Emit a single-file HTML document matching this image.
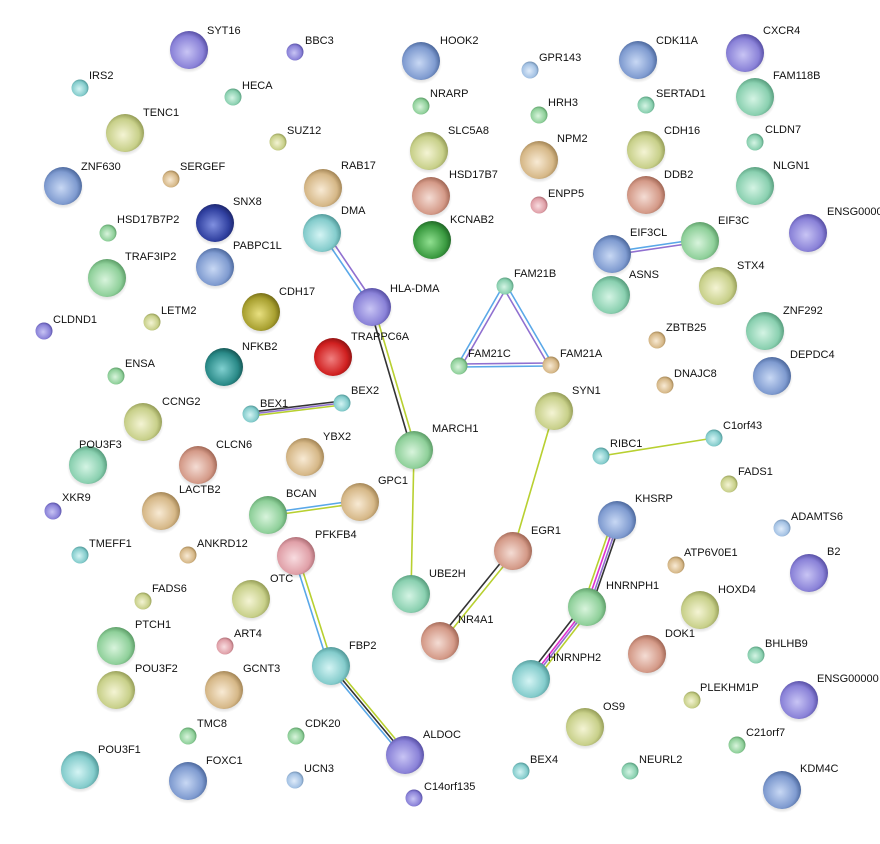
<!DOCTYPE html>
<html><head><meta charset="utf-8"><style>
html,body{margin:0;padding:0;background:#fff;width:880px;height:844px;overflow:hidden}
svg text{font-family:"Liberation Sans",sans-serif;font-size:11px;fill:#111}
</style></head><body>
<svg width="880" height="844" xmlns="http://www.w3.org/2000/svg">
<defs>
<radialGradient id="sh" cx="50%" cy="50%" r="50%"><stop offset="60%" stop-color="#000" stop-opacity="0.25"/><stop offset="100%" stop-color="#000" stop-opacity="0"/></radialGradient>
<radialGradient id="hl" cx="50%" cy="30%" r="50%"><stop offset="0%" stop-color="#fff" stop-opacity="0.95"/><stop offset="100%" stop-color="#fff" stop-opacity="0"/></radialGradient>
<radialGradient id="pu" cx="45%" cy="55%" r="60%"><stop offset="0%" stop-color="#c8c4f4"/><stop offset="70%" stop-color="#8a82d8"/><stop offset="100%" stop-color="#4a4298"/></radialGradient>
<radialGradient id="bl" cx="45%" cy="55%" r="60%"><stop offset="0%" stop-color="#c8d8f4"/><stop offset="70%" stop-color="#7f9bd0"/><stop offset="100%" stop-color="#3f5b90"/></radialGradient>
<radialGradient id="lb" cx="45%" cy="55%" r="60%"><stop offset="0%" stop-color="#e0ecfa"/><stop offset="70%" stop-color="#a4c2e4"/><stop offset="100%" stop-color="#6482a4"/></radialGradient>
<radialGradient id="te" cx="45%" cy="55%" r="60%"><stop offset="0%" stop-color="#d4f4f4"/><stop offset="70%" stop-color="#84cccc"/><stop offset="100%" stop-color="#448c8c"/></radialGradient>
<radialGradient id="tg" cx="45%" cy="55%" r="60%"><stop offset="0%" stop-color="#d4f4e4"/><stop offset="70%" stop-color="#8ad0b0"/><stop offset="100%" stop-color="#4a9070"/></radialGradient>
<radialGradient id="gr" cx="45%" cy="55%" r="60%"><stop offset="0%" stop-color="#d8f4dc"/><stop offset="70%" stop-color="#8fd09a"/><stop offset="100%" stop-color="#4f905a"/></radialGradient>
<radialGradient id="ol" cx="45%" cy="55%" r="60%"><stop offset="0%" stop-color="#f4f4d4"/><stop offset="70%" stop-color="#c8d08a"/><stop offset="100%" stop-color="#88904a"/></radialGradient>
<radialGradient id="ta" cx="45%" cy="55%" r="60%"><stop offset="0%" stop-color="#f8ead4"/><stop offset="70%" stop-color="#d6b888"/><stop offset="100%" stop-color="#967848"/></radialGradient>
<radialGradient id="sa" cx="45%" cy="55%" r="60%"><stop offset="0%" stop-color="#f4dcd4"/><stop offset="70%" stop-color="#d49a88"/><stop offset="100%" stop-color="#945a48"/></radialGradient>
<radialGradient id="pk" cx="45%" cy="55%" r="60%"><stop offset="0%" stop-color="#f8dce0"/><stop offset="70%" stop-color="#e0a0a8"/><stop offset="100%" stop-color="#a06068"/></radialGradient>
<radialGradient id="rd" cx="45%" cy="55%" r="60%"><stop offset="0%" stop-color="#f08080"/><stop offset="70%" stop-color="#d02020"/><stop offset="100%" stop-color="#801010"/></radialGradient>
<radialGradient id="nv" cx="45%" cy="55%" r="60%"><stop offset="0%" stop-color="#8090e0"/><stop offset="70%" stop-color="#3040a0"/><stop offset="100%" stop-color="#182060"/></radialGradient>
<radialGradient id="dg" cx="45%" cy="55%" r="60%"><stop offset="0%" stop-color="#90e090"/><stop offset="70%" stop-color="#3a9a40"/><stop offset="100%" stop-color="#1a5a20"/></radialGradient>
<radialGradient id="dt" cx="45%" cy="55%" r="60%"><stop offset="0%" stop-color="#80d0d0"/><stop offset="70%" stop-color="#2a8a88"/><stop offset="100%" stop-color="#104a48"/></radialGradient>
<radialGradient id="do" cx="45%" cy="55%" r="60%"><stop offset="0%" stop-color="#e8e080"/><stop offset="70%" stop-color="#a8a030"/><stop offset="100%" stop-color="#686010"/></radialGradient>
</defs>
<g stroke-width="1.6" fill="none">
<line x1="320" y1="231" x2="370" y2="305" stroke="#5aa8e8"/><line x1="324" y1="229" x2="374" y2="303" stroke="#9070d0"/>
<line x1="370" y1="308" x2="412" y2="451" stroke="#333"/><line x1="374" y1="307" x2="416" y2="450" stroke="#b8d030"/>
<line x1="414" y1="450" x2="411" y2="594" stroke="#b8d030"/>
<line x1="251" y1="412" x2="342" y2="401" stroke="#333"/><line x1="251" y1="414" x2="342" y2="403" stroke="#9070d0"/><line x1="251" y1="416" x2="342" y2="405" stroke="#b8d030"/>
<line x1="268" y1="513" x2="360" y2="500" stroke="#5aa8e8"/><line x1="268" y1="516" x2="360" y2="503" stroke="#b8d030"/>
<line x1="503" y1="286" x2="457" y2="366" stroke="#5aa8e8"/><line x1="507" y1="287" x2="461" y2="367" stroke="#9070d0"/>
<line x1="503" y1="287" x2="549" y2="366" stroke="#9070d0"/><line x1="507" y1="286" x2="553" y2="365" stroke="#5aa8e8"/>
<line x1="459" y1="364" x2="551" y2="363" stroke="#9070d0"/><line x1="459" y1="367" x2="551" y2="366" stroke="#5aa8e8"/>
<line x1="612" y1="252" x2="700" y2="239" stroke="#5aa8e8"/><line x1="612" y1="255" x2="700" y2="242" stroke="#9070d0"/>
<line x1="554" y1="411" x2="513" y2="551" stroke="#b8d030"/>
<line x1="511" y1="550" x2="438" y2="640" stroke="#333"/><line x1="515" y1="552" x2="442" y2="642" stroke="#b8d030"/>
<line x1="601" y1="456" x2="714" y2="438" stroke="#b8d030"/>
<line x1="613" y1="519" x2="583" y2="606" stroke="#b8d030"/><line x1="616" y1="520" x2="586" y2="607" stroke="#e030d0"/><line x1="619" y1="520" x2="589" y2="607" stroke="#9070d0"/><line x1="621" y1="521" x2="591" y2="608" stroke="#333"/>
<line x1="584" y1="604" x2="528" y2="676" stroke="#333"/><line x1="587" y1="606" x2="531" y2="678" stroke="#e030d0"/><line x1="589" y1="607" x2="533" y2="679" stroke="#9070d0"/><line x1="591" y1="609" x2="535" y2="681" stroke="#b8d030"/>
<line x1="294" y1="557" x2="329" y2="667" stroke="#5aa8e8"/><line x1="298" y1="556" x2="333" y2="666" stroke="#b8d030"/>
<line x1="329" y1="668" x2="403" y2="757" stroke="#5aa8e8"/><line x1="331" y1="666" x2="405" y2="755" stroke="#333"/><line x1="333" y1="664" x2="407" y2="753" stroke="#b8d030"/>
</g>
<g id="nodes">
<!-- big nodes -->
<g>
<circle cx="189" cy="52" r="21" fill="url(#sh)"/><circle cx="189" cy="50" r="19" fill="url(#pu)"/>
<circle cx="421" cy="63" r="21" fill="url(#sh)"/><circle cx="421" cy="61" r="19" fill="url(#bl)"/>
<circle cx="125" cy="135" r="21" fill="url(#sh)"/><circle cx="125" cy="133" r="19" fill="url(#ol)"/>
<circle cx="63" cy="188" r="21" fill="url(#sh)"/><circle cx="63" cy="186" r="19" fill="url(#bl)"/>
<circle cx="429" cy="153" r="21" fill="url(#sh)"/><circle cx="429" cy="151" r="19" fill="url(#ol)"/>
<circle cx="431" cy="198" r="21" fill="url(#sh)"/><circle cx="431" cy="196" r="19" fill="url(#sa)"/>
<circle cx="432" cy="242" r="21" fill="url(#sh)"/><circle cx="432" cy="240" r="19" fill="url(#dg)"/>
<circle cx="323" cy="190" r="21" fill="url(#sh)"/><circle cx="323" cy="188" r="19" fill="url(#ta)"/>
<circle cx="322" cy="235" r="21" fill="url(#sh)"/><circle cx="322" cy="233" r="19" fill="url(#te)"/>
<circle cx="539" cy="162" r="21" fill="url(#sh)"/><circle cx="539" cy="160" r="19" fill="url(#ta)"/>
<circle cx="638" cy="62" r="21" fill="url(#sh)"/><circle cx="638" cy="60" r="19" fill="url(#bl)"/>
<circle cx="646" cy="152" r="21" fill="url(#sh)"/><circle cx="646" cy="150" r="19" fill="url(#ol)"/>
<circle cx="646" cy="197" r="21" fill="url(#sh)"/><circle cx="646" cy="195" r="19" fill="url(#sa)"/>
<circle cx="745" cy="55" r="21" fill="url(#sh)"/><circle cx="745" cy="53" r="19" fill="url(#pu)"/>
<circle cx="755" cy="99" r="21" fill="url(#sh)"/><circle cx="755" cy="97" r="19" fill="url(#tg)"/>
<circle cx="755" cy="188" r="21" fill="url(#sh)"/><circle cx="755" cy="186" r="19" fill="url(#tg)"/>
<circle cx="808" cy="235" r="21" fill="url(#sh)"/><circle cx="808" cy="233" r="19" fill="url(#pu)"/>
<circle cx="215" cy="225" r="21" fill="url(#sh)"/><circle cx="215" cy="223" r="19" fill="url(#nv)"/>
<circle cx="215" cy="269" r="21" fill="url(#sh)"/><circle cx="215" cy="267" r="19" fill="url(#bl)"/>
<circle cx="107" cy="280" r="21" fill="url(#sh)"/><circle cx="107" cy="278" r="19" fill="url(#gr)"/>
<circle cx="261" cy="314" r="21" fill="url(#sh)"/><circle cx="261" cy="312" r="19" fill="url(#do)"/>
<circle cx="372" cy="309" r="21" fill="url(#sh)"/><circle cx="372" cy="307" r="19" fill="url(#pu)"/>
<circle cx="333" cy="359" r="21" fill="url(#sh)"/><circle cx="333" cy="357" r="19" fill="url(#rd)"/>
<circle cx="224" cy="369" r="21" fill="url(#sh)"/><circle cx="224" cy="367" r="19" fill="url(#dt)"/>
<circle cx="612" cy="256" r="21" fill="url(#sh)"/><circle cx="612" cy="254" r="19" fill="url(#bl)"/>
<circle cx="700" cy="243" r="21" fill="url(#sh)"/><circle cx="700" cy="241" r="19" fill="url(#gr)"/>
<circle cx="611" cy="297" r="21" fill="url(#sh)"/><circle cx="611" cy="295" r="19" fill="url(#tg)"/>
<circle cx="718" cy="288" r="21" fill="url(#sh)"/><circle cx="718" cy="286" r="19" fill="url(#ol)"/>
<circle cx="765" cy="333" r="21" fill="url(#sh)"/><circle cx="765" cy="331" r="19" fill="url(#tg)"/>
<circle cx="772" cy="378" r="21" fill="url(#sh)"/><circle cx="772" cy="376" r="19" fill="url(#bl)"/>
<circle cx="143" cy="424" r="21" fill="url(#sh)"/><circle cx="143" cy="422" r="19" fill="url(#ol)"/>
<circle cx="414" cy="452" r="21" fill="url(#sh)"/><circle cx="414" cy="450" r="19" fill="url(#gr)"/>
<circle cx="554" cy="413" r="21" fill="url(#sh)"/><circle cx="554" cy="411" r="19" fill="url(#ol)"/>
<circle cx="88" cy="467" r="21" fill="url(#sh)"/><circle cx="88" cy="465" r="19" fill="url(#tg)"/>
<circle cx="198" cy="467" r="21" fill="url(#sh)"/><circle cx="198" cy="465" r="19" fill="url(#sa)"/>
<circle cx="305" cy="459" r="21" fill="url(#sh)"/><circle cx="305" cy="457" r="19" fill="url(#ta)"/>
<circle cx="161" cy="513" r="21" fill="url(#sh)"/><circle cx="161" cy="511" r="19" fill="url(#ta)"/>
<circle cx="360" cy="504" r="21" fill="url(#sh)"/><circle cx="360" cy="502" r="19" fill="url(#ta)"/>
<circle cx="268" cy="517" r="21" fill="url(#sh)"/><circle cx="268" cy="515" r="19" fill="url(#gr)"/>
<circle cx="513" cy="553" r="21" fill="url(#sh)"/><circle cx="513" cy="551" r="19" fill="url(#sa)"/>
<circle cx="617" cy="522" r="21" fill="url(#sh)"/><circle cx="617" cy="520" r="19" fill="url(#bl)"/>
<circle cx="296" cy="558" r="21" fill="url(#sh)"/><circle cx="296" cy="556" r="19" fill="url(#pk)"/>
<circle cx="809" cy="575" r="21" fill="url(#sh)"/><circle cx="809" cy="573" r="19" fill="url(#pu)"/>
<circle cx="251" cy="601" r="21" fill="url(#sh)"/><circle cx="251" cy="599" r="19" fill="url(#ol)"/>
<circle cx="411" cy="596" r="21" fill="url(#sh)"/><circle cx="411" cy="594" r="19" fill="url(#tg)"/>
<circle cx="587" cy="609" r="21" fill="url(#sh)"/><circle cx="587" cy="607" r="19" fill="url(#gr)"/>
<circle cx="700" cy="612" r="21" fill="url(#sh)"/><circle cx="700" cy="610" r="19" fill="url(#ol)"/>
<circle cx="116" cy="648" r="21" fill="url(#sh)"/><circle cx="116" cy="646" r="19" fill="url(#gr)"/>
<circle cx="440" cy="643" r="21" fill="url(#sh)"/><circle cx="440" cy="641" r="19" fill="url(#sa)"/>
<circle cx="647" cy="656" r="21" fill="url(#sh)"/><circle cx="647" cy="654" r="19" fill="url(#sa)"/>
<circle cx="116" cy="692" r="21" fill="url(#sh)"/><circle cx="116" cy="690" r="19" fill="url(#ol)"/>
<circle cx="224" cy="692" r="21" fill="url(#sh)"/><circle cx="224" cy="690" r="19" fill="url(#ta)"/>
<circle cx="331" cy="668" r="21" fill="url(#sh)"/><circle cx="331" cy="666" r="19" fill="url(#te)"/>
<circle cx="531" cy="681" r="21" fill="url(#sh)"/><circle cx="531" cy="679" r="19" fill="url(#te)"/>
<circle cx="799" cy="702" r="21" fill="url(#sh)"/><circle cx="799" cy="700" r="19" fill="url(#pu)"/>
<circle cx="585" cy="729" r="21" fill="url(#sh)"/><circle cx="585" cy="727" r="19" fill="url(#ol)"/>
<circle cx="80" cy="772" r="21" fill="url(#sh)"/><circle cx="80" cy="770" r="19" fill="url(#te)"/>
<circle cx="188" cy="783" r="21" fill="url(#sh)"/><circle cx="188" cy="781" r="19" fill="url(#bl)"/>
<circle cx="405" cy="757" r="21" fill="url(#sh)"/><circle cx="405" cy="755" r="19" fill="url(#pu)"/>
<circle cx="782" cy="792" r="21" fill="url(#sh)"/><circle cx="782" cy="790" r="19" fill="url(#bl)"/>
</g>
<!-- small nodes -->
<g>
<circle cx="295" cy="52" r="8.5" fill="url(#pu)"/>
<circle cx="80" cy="88" r="8.5" fill="url(#te)"/>
<circle cx="233" cy="97" r="8.5" fill="url(#tg)"/>
<circle cx="278" cy="142" r="8.5" fill="url(#ol)"/>
<circle cx="171" cy="179" r="8.5" fill="url(#ta)"/>
<circle cx="421" cy="106" r="8.5" fill="url(#gr)"/>
<circle cx="530" cy="70" r="8.5" fill="url(#lb)"/>
<circle cx="539" cy="115" r="8.5" fill="url(#gr)"/>
<circle cx="539" cy="205" r="8.5" fill="url(#pk)"/>
<circle cx="646" cy="105" r="8.5" fill="url(#tg)"/>
<circle cx="755" cy="142" r="8.5" fill="url(#tg)"/>
<circle cx="108" cy="233" r="8.5" fill="url(#gr)"/>
<circle cx="152" cy="322" r="8.5" fill="url(#ol)"/>
<circle cx="44" cy="331" r="8.5" fill="url(#pu)"/>
<circle cx="116" cy="376" r="8.5" fill="url(#gr)"/>
<circle cx="505" cy="286" r="8.5" fill="url(#tg)"/>
<circle cx="459" cy="366" r="8.5" fill="url(#gr)"/>
<circle cx="551" cy="365" r="8.5" fill="url(#ta)"/>
<circle cx="657" cy="340" r="8.5" fill="url(#ta)"/>
<circle cx="665" cy="385" r="8.5" fill="url(#ta)"/>
<circle cx="251" cy="414" r="8.5" fill="url(#te)"/>
<circle cx="342" cy="403" r="8.5" fill="url(#te)"/>
<circle cx="601" cy="456" r="8.5" fill="url(#te)"/>
<circle cx="714" cy="438" r="8.5" fill="url(#te)"/>
<circle cx="729" cy="484" r="8.5" fill="url(#ol)"/>
<circle cx="53" cy="511" r="8.5" fill="url(#pu)"/>
<circle cx="782" cy="528" r="8.5" fill="url(#lb)"/>
<circle cx="80" cy="555" r="8.5" fill="url(#te)"/>
<circle cx="188" cy="555" r="8.5" fill="url(#ta)"/>
<circle cx="676" cy="565" r="8.5" fill="url(#ta)"/>
<circle cx="143" cy="601" r="8.5" fill="url(#ol)"/>
<circle cx="225" cy="646" r="8.5" fill="url(#pk)"/>
<circle cx="756" cy="655" r="8.5" fill="url(#tg)"/>
<circle cx="692" cy="700" r="8.5" fill="url(#ol)"/>
<circle cx="188" cy="736" r="8.5" fill="url(#gr)"/>
<circle cx="296" cy="736" r="8.5" fill="url(#gr)"/>
<circle cx="737" cy="745" r="8.5" fill="url(#gr)"/>
<circle cx="295" cy="780" r="8.5" fill="url(#lb)"/>
<circle cx="521" cy="771" r="8.5" fill="url(#te)"/>
<circle cx="630" cy="771" r="8.5" fill="url(#tg)"/>
<circle cx="414" cy="798" r="8.5" fill="url(#pu)"/>
</g>
</g>
<g>
<text x="207" y="34">SYT16</text><text x="305" y="44">BBC3</text><text x="89" y="79">IRS2</text>
<text x="242" y="89">HECA</text><text x="143" y="116">TENC1</text><text x="287" y="134">SUZ12</text>
<text x="180" y="170">SERGEF</text><text x="81" y="170">ZNF630</text><text x="440" y="44">HOOK2</text>
<text x="430" y="97">NRARP</text><text x="448" y="134">SLC5A8</text><text x="449" y="178">HSD17B7</text>
<text x="450" y="223">KCNAB2</text><text x="341" y="169">RAB17</text><text x="341" y="214">DMA</text>
<text x="539" y="61">GPR143</text><text x="548" y="106">HRH3</text><text x="557" y="142">NPM2</text>
<text x="548" y="197">ENPP5</text><text x="656" y="44">CDK11A</text><text x="656" y="97">SERTAD1</text>
<text x="664" y="134">CDH16</text><text x="664" y="178">DDB2</text><text x="763" y="34">CXCR4</text>
<text x="773" y="79">FAM118B</text><text x="765" y="133">CLDN7</text><text x="773" y="169">NLGN1</text>
<text x="827" y="215">ENSG00000</text><text x="117" y="223">HSD17B7P2</text><text x="233" y="205">SNX8</text>
<text x="233" y="249">PABPC1L</text><text x="125" y="260">TRAF3IP2</text><text x="161" y="314">LETM2</text>
<text x="279" y="295">CDH17</text><text x="390" y="292">HLA-DMA</text><text x="351" y="340">TRAPPC6A</text>
<text x="53" y="323">CLDND1</text><text x="125" y="367">ENSA</text><text x="242" y="350">NFKB2</text>
<text x="514" y="277">FAM21B</text><text x="468" y="357">FAM21C</text><text x="560" y="357">FAM21A</text>
<text x="630" y="236">EIF3CL</text><text x="718" y="224">EIF3C</text><text x="629" y="278">ASNS</text>
<text x="737" y="269">STX4</text><text x="666" y="331">ZBTB25</text><text x="783" y="314">ZNF292</text>
<text x="674" y="377">DNAJC8</text><text x="790" y="358">DEPDC4</text><text x="162" y="405">CCNG2</text>
<text x="260" y="407">BEX1</text><text x="351" y="394">BEX2</text><text x="432" y="432">MARCH1</text>
<text x="572" y="394">SYN1</text><text x="610" y="447">RIBC1</text><text x="723" y="429">C1orf43</text>
<text x="738" y="475">FADS1</text><text x="79" y="448">POU3F3</text><text x="216" y="448">CLCN6</text>
<text x="323" y="440">YBX2</text><text x="179" y="493">LACTB2</text><text x="62" y="501">XKR9</text>
<text x="378" y="484">GPC1</text><text x="286" y="497">BCAN</text><text x="531" y="534">EGR1</text>
<text x="635" y="502">KHSRP</text><text x="791" y="520">ADAMTS6</text><text x="89" y="547">TMEFF1</text>
<text x="197" y="547">ANKRD12</text><text x="315" y="538">PFKFB4</text><text x="684" y="556">ATP6V0E1</text>
<text x="827" y="555">B2</text><text x="270" y="582">OTC</text><text x="429" y="577">UBE2H</text>
<text x="152" y="592">FADS6</text><text x="606" y="589">HNRNPH1</text><text x="718" y="593">HOXD4</text>
<text x="135" y="628">PTCH1</text><text x="234" y="637">ART4</text><text x="458" y="623">NR4A1</text>
<text x="665" y="637">DOK1</text><text x="765" y="647">BHLHB9</text><text x="135" y="672">POU3F2</text>
<text x="243" y="672">GCNT3</text><text x="349" y="649">FBP2</text><text x="548" y="661">HNRNPH2</text>
<text x="700" y="691">PLEKHM1P</text><text x="817" y="682">ENSG00000</text><text x="603" y="710">OS9</text>
<text x="197" y="727">TMC8</text><text x="305" y="727">CDK20</text><text x="746" y="736">C21orf7</text>
<text x="98" y="753">POU3F1</text><text x="206" y="764">FOXC1</text><text x="304" y="772">UCN3</text>
<text x="423" y="738">ALDOC</text><text x="530" y="763">BEX4</text><text x="639" y="763">NEURL2</text>
<text x="800" y="772">KDM4C</text><text x="424" y="790">C14orf135</text>
</g>
</svg>
</body></html>
